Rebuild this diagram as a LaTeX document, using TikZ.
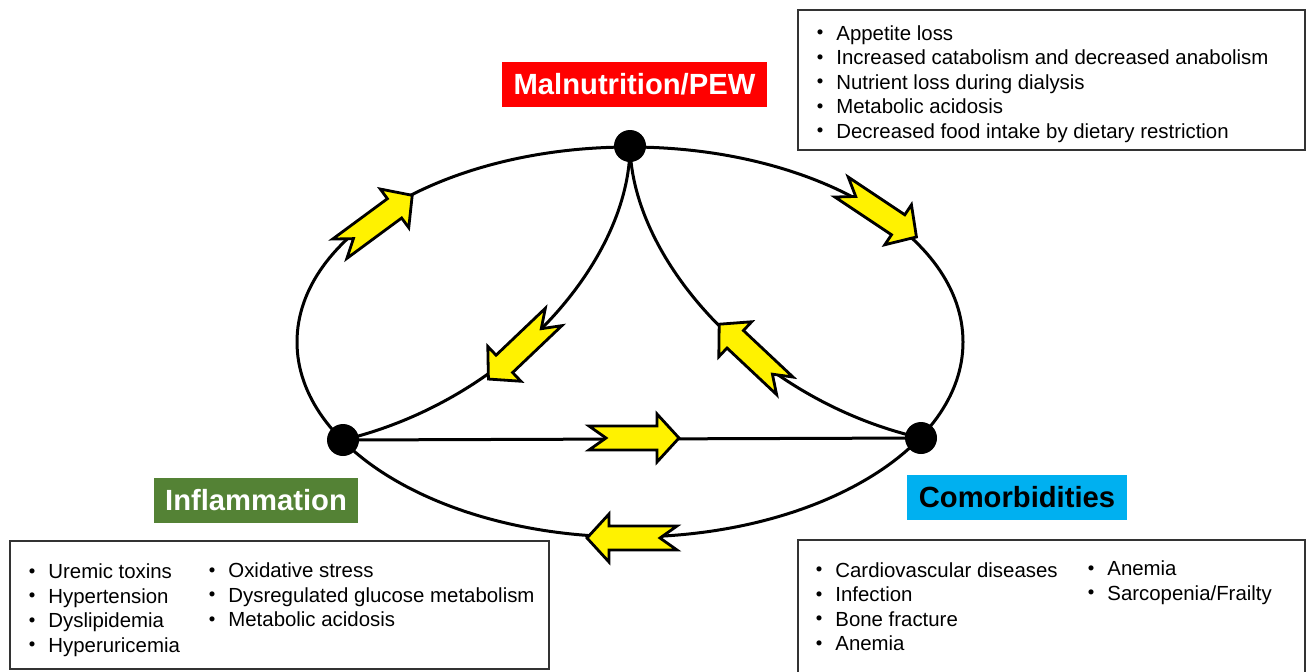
\documentclass[tikz,border=0pt]{standalone}
\usepackage{fontspec}
\setmainfont{Liberation Sans}
\newfontfamily\cjk{Noto Sans CJK JP}
\definecolor{pewred}{HTML}{FF0000}
\definecolor{inflgreen}{HTML}{548235}
\definecolor{comorbcyan}{HTML}{00B0F0}
\newcommand{\bul}{\makebox[16pt]{\raisebox{-0.9pt}{\cjk\fontsize{12pt}{12pt}\selectfont ・}}}
\tikzset{
  hub/.style={circle, fill=black, minimum size=16pt, inner sep=0pt},
  tag/.style={minimum height=22.5pt, inner sep=0pt, text height=10.45pt, text depth=0pt,
    font=\fontsize{14.6pt}{17pt}\selectfont\bfseries},
  listtext/.style={anchor=north west, align=left, inner sep=0pt,
    font=\fontsize{10.2pt}{12.25pt}\selectfont},
  listframe/.style={draw=black!80, line width=1pt},
  ring/.style={line width=1.5pt},
  fatarrow/.pic={
    \draw[fill=yellow, line width=1.4pt, line join=miter]
      (-45,12) -- (23,12) -- (23,24) -- (45,0) -- (23,-24) -- (23,-12) -- (-45,-12) -- (-28,0) -- cycle;
  }
}
\begin{document}
\begin{tikzpicture}[x=0.5pt, y=-0.5pt]
  \useasboundingbox (0,0) rectangle (1306,671);
  % the three hubs
  \node[hub] (mal) at (630,146) {};
  \node[hub] (infl) at (343,440) {};
  \node[hub] (comorb) at (921,438) {};
  \coordinate (mid) at (630,342);
  % outer loop and inner links
  \draw[ring] (mid) ellipse [x radius=333, y radius=195];
  \draw[ring] (mal.center) .. controls +(0,114) and +(167,-40) .. (infl.center);
  \draw[ring] (mal.center) .. controls +(2,114) and +(-166,-38) .. (comorb.center);
  \draw[ring] (infl.center) -- (comorb.center);
  % yellow arrows
  \pic[rotate=36.4] at (376,222) {fatarrow};
  \pic[rotate=-33.7] at (879,212) {fatarrow};
  \pic[rotate=223.6] at (521,348) {fatarrow};
  \pic[rotate=136.8] at (752,355) {fatarrow};
  \pic at (634,438) {fatarrow};
  \pic[rotate=180] at (632,538) {fatarrow};
  % labels
  \node[tag, fill=pewred, text=white, minimum width=132.5pt] (maltag) at (634.5,84.5) {Malnutrition/PEW};
  \node[tag, fill=inflgreen, text=white, minimum width=102pt] (infltag) at (256,500.5) {Inflammation};
  \node[tag, fill=comorbcyan, minimum width=110pt] (comorbtag) at (1017,497.5) {Comorbidities};
  % lists
  \draw[listframe] (798,10) rectangle (1305,150);
  \node[listtext] (malcauses) at (804,25) {\bul Appetite loss\\
    \bul Increased catabolism and decreased anabolism\\
    \bul Nutrient loss during dialysis\\
    \bul Metabolic acidosis\\
    \bul Decreased food intake by dietary restriction};
  \draw[listframe] (10,541) rectangle (549,669);
  \node[listtext] (inflcausesa) at (16,563.5) {\bul Uremic toxins\\
    \bul Hypertension\\
    \bul Dyslipidemia\\
    \bul Hyperuricemia};
  \node[listtext] (inflcausesb) at (196,562.5) {\bul Oxidative stress\\
    \bul Dysregulated glucose metabolism\\
    \bul Metabolic acidosis};
  \draw[listframe] (798,540) rectangle (1305,676);
  \node[listtext] (comorblista) at (803,562) {\bul Cardiovascular diseases\\
    \bul Infection\\
    \bul Bone fracture\\
    \bul Anemia};
  \node[listtext] (comorblistb) at (1075,560.5) {\bul Anemia\\
    \bul Sarcopenia/Frailty};
\end{tikzpicture}
\end{document}
